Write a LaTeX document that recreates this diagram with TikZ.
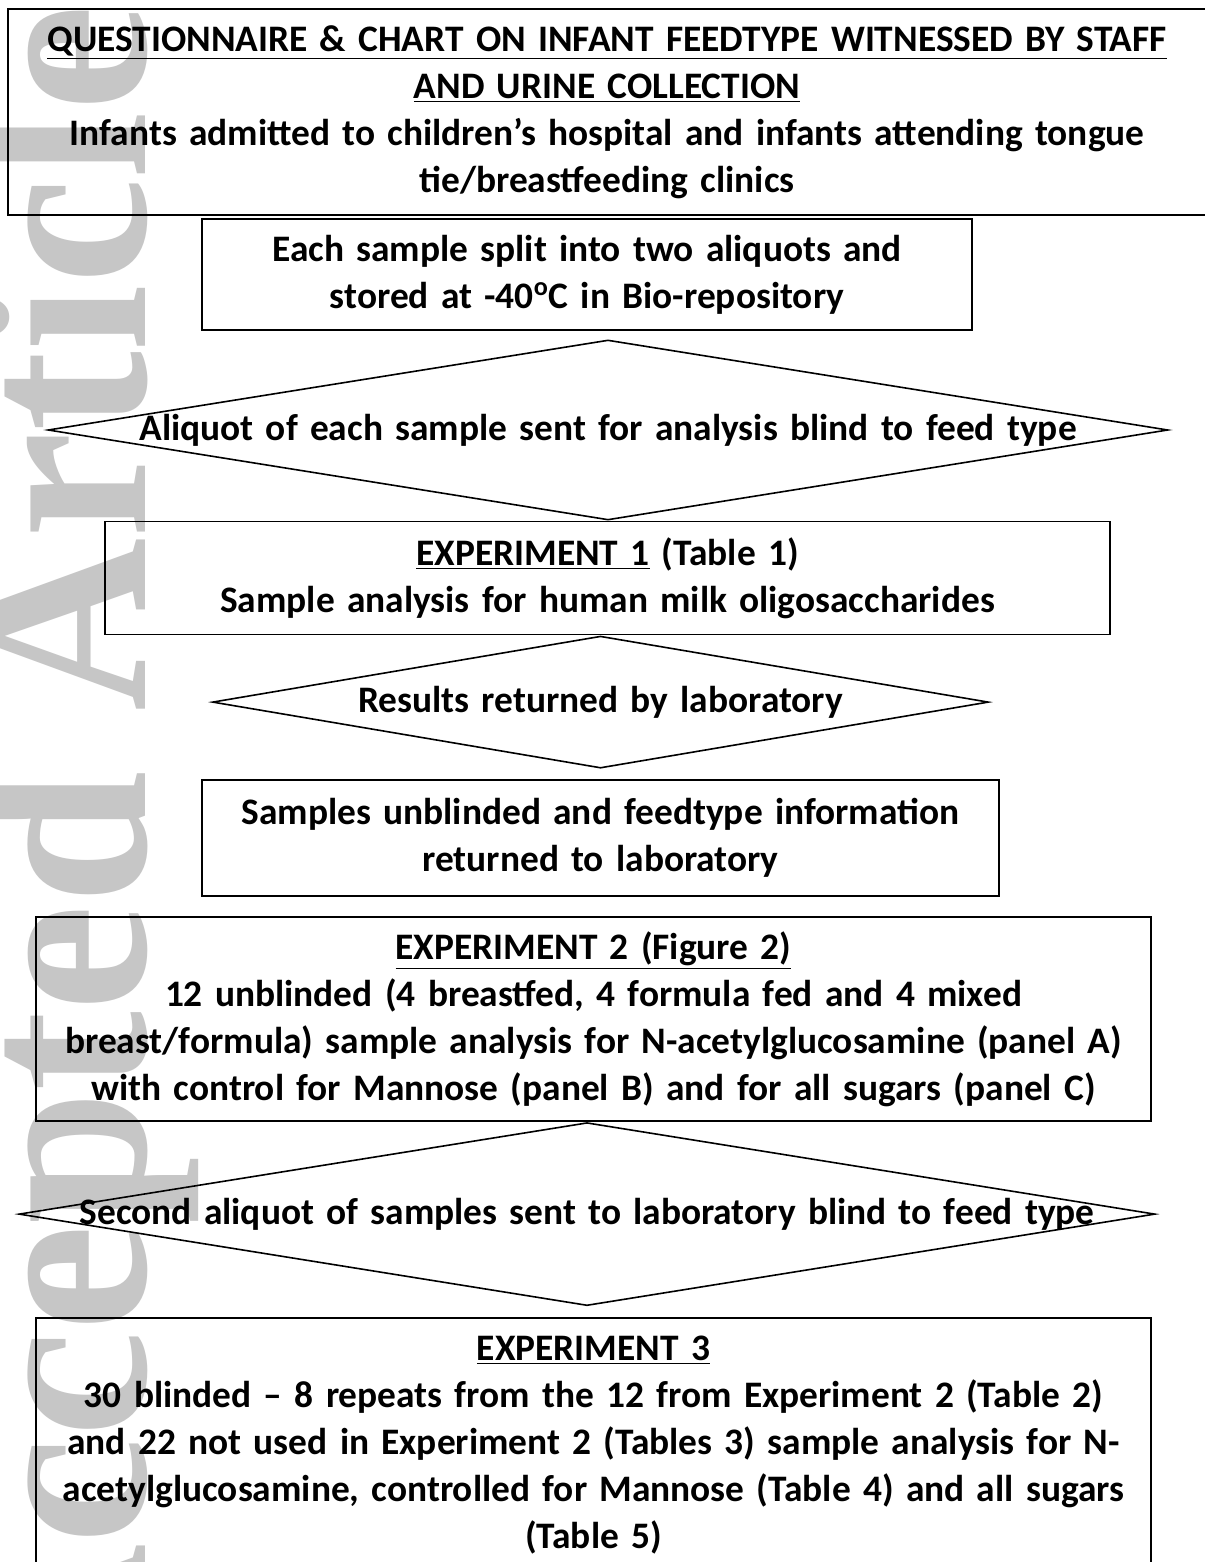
\documentclass[tikz,border=0pt]{standalone}
\usepackage{fontspec}
\setmainfont{Carlito}[WordSpace=1.45]
\newfontfamily\wmfont{Liberation Serif}
\usetikzlibrary{positioning,shapes.geometric}

\definecolor{wmgray}{RGB}{198,198,198}
\tikzset{
	flowbox/.style={draw,line width=0.8pt,rectangle,align=center,inner sep=0pt},
	decision/.style={draw,line width=0.8pt,diamond,inner sep=0pt},
	flowtext/.style={align=center,inner sep=0pt},
}

\begin{document}
\begin{tikzpicture}[x=0.5pt,y=-0.5pt,font=\fontsize{18.7}{23.5}\selectfont\bfseries]
	\useasboundingbox (0,0) rectangle (1204,1562);
	\fill[white] (0,0) rectangle (1204,1562);

	% watermark
	\node[rotate=90,anchor=base west,text=wmgray,inner sep=0pt,font=\wmfont\bfseries\fontsize{120}{120}\selectfont] (stamp) at (145,1718) {\scalebox{1}[1.04]{Accepted Article}};

	\draw
	node[flowbox,minimum width=599pt,minimum height=103pt] (intake) at (607,112) {\underline{QUESTIONNAIRE \& CHART ON INFANT FEEDTYPE WITNESSED BY STAFF}\\\underline{AND URINE COLLECTION}\\Infants admitted to children’s hospital and infants attending tongue\\tie/breastfeeding clinics}
	node[flowbox,minimum width=385pt,minimum height=55.5pt] (store) at (587,274.5) {Each sample split into two aliquots and\\stored at -40\textsuperscript{o}C in Bio-repository};

	\draw
	node[decision,minimum width=560pt,minimum height=90pt] (send) at (608,430) {}
	node[flowtext] (sendtext) at (send.center) {Aliquot of each sample sent for analysis blind to feed type};

	\draw
	node[flowbox,minimum width=502.5pt,minimum height=56.5pt] (expone) at (607.5,578) {\underline{EXPERIMENT 1} (Table 1)\\Sample analysis for human milk oligosaccharides}
	node[decision,minimum width=388pt,minimum height=66pt,below=0pt of expone,xshift=-3.5pt] (results) {}
	node[flowtext] (resultstext) at (results.center) {Results returned by laboratory};

	\draw
	node[flowbox,minimum width=398.5pt,minimum height=58pt] (unblind) at (600.5,838) {Samples unblinded and feedtype information\\returned to laboratory};

	\draw
	node[flowbox,minimum width=557.5pt,minimum height=102pt] (exptwo) at (593.5,1019) {\underline{EXPERIMENT 2 (Figure 2)}\\12 unblinded (4 breastfed, 4 formula fed and 4 mixed\\breast/formula) sample analysis for N-acetylglucosamine (panel A)\\with control for Mannose (panel B) and for all sugars (panel C)}
	node[decision,minimum width=568pt,minimum height=91.5pt,below=0pt of exptwo,xshift=-3.25pt] (second) {}
	node[flowtext] (secondtext) at (second.center) {Second aliquot of samples sent to laboratory blind to feed type};

	\draw
	node[flowbox,minimum width=557.5pt,minimum height=127pt] (expthree) at (593.5,1445) {\underline{EXPERIMENT 3}\\30 blinded \textendash{} 8 repeats from the 12 from Experiment 2 (Table 2)\\and 22 not used in Experiment 2 (Tables 3) sample analysis for N-\\acetylglucosamine, controlled for Mannose (Table 4) and all sugars\\(Table 5)};
\end{tikzpicture}
\end{document}
